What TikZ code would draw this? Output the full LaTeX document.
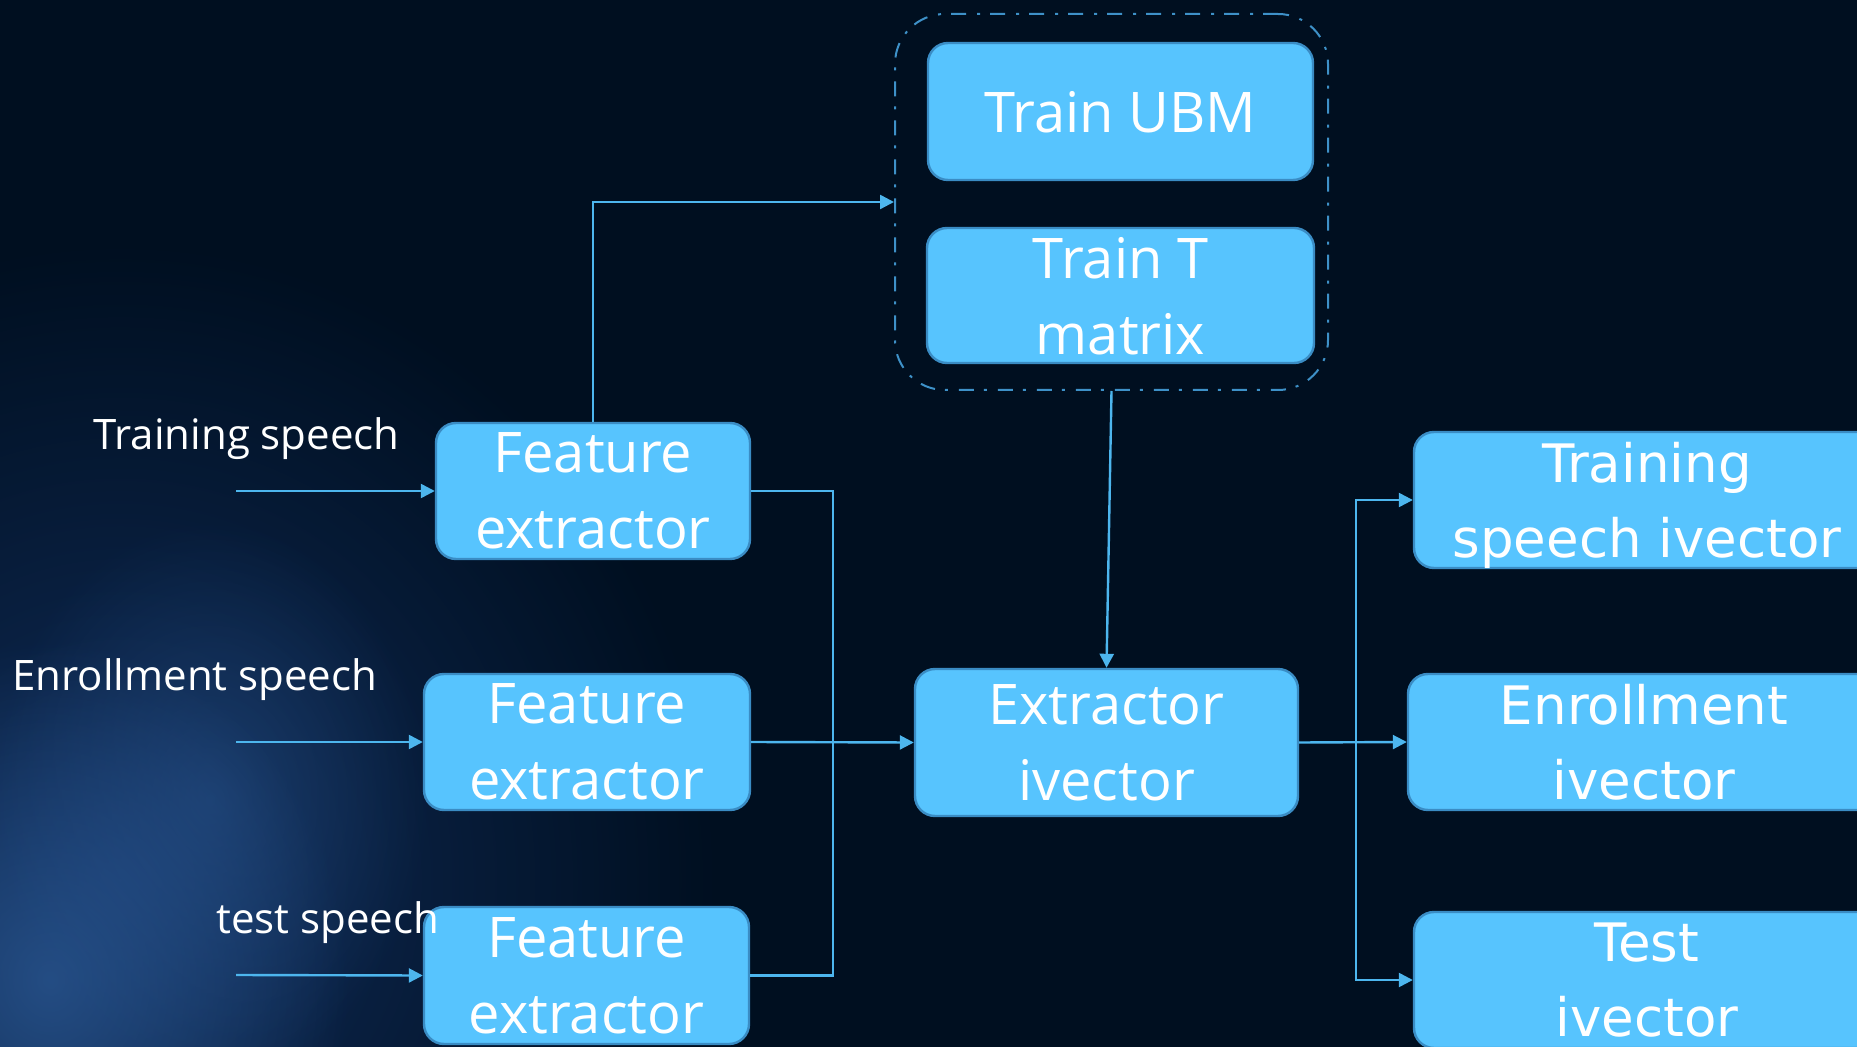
\documentclass[tikz,border=0pt]{standalone}
\usepackage{fontspec}
\setmainfont{Open Sans}
\newfontfamily\vecfont{DejaVu Sans}
\usetikzlibrary{arrows.meta,fadings}

\definecolor{bg}{RGB}{0,15,32}
\definecolor{glow}{RGB}{44,90,150}
\definecolor{glowsoft}{RGB}{16,44,88}
\definecolor{boxfill}{RGB}{87,196,254}
\definecolor{boxedge}{RGB}{58,140,196}
\definecolor{wirecol}{RGB}{77,182,238}
\definecolor{grpedge}{RGB}{62,145,200}

\tikzfading[name=softglow, inner color=transparent!0, outer color=transparent!100]

\tikzset{
  box/.style={draw=boxedge, fill=boxfill, line width=1.2pt, rounded corners=10pt,
    text=white, align=center, inner sep=0pt, text depth=0pt,
    font=\fontsize{28}{38}\selectfont},
  vbox/.style={box, font=\vecfont\fontsize{26.5}{37.5}\selectfont},
  wire/.style={draw=wirecol, line width=1.2pt},
  tip/.style={wire, -{Triangle[length=7pt,width=7pt]}},
  inlabel/.style={text=white, anchor=base west, inner sep=0pt,
    font=\fontsize{21}{25}\selectfont},
  group/.style={draw=grpedge, line width=1pt, rounded corners=25pt,
    dash pattern=on 7.5pt off 5pt on 1.5pt off 5.5pt,
    minimum width=216.5pt, minimum height=188pt, inner sep=0pt},
  haze/.style={path fading=softglow}
}

\begin{document}
\begin{tikzpicture}[x=0.5pt, y=-0.5pt]
  \clip (0,0) rectangle (1857,1047);
  % dark backdrop with a soft blue haze in the lower left
  \fill[bg] (0,0) rectangle (1857,1047);
  \fill[glowsoft, haze] (120,880) ellipse (600 and 640);
  \fill[glow, haze, opacity=0.75] (50,980) ellipse (300 and 340);
  \fill[glow, haze, opacity=0.45] (210,800) ellipse (220 and 280);

  % training stage
  \node[group] (grp) at (1111.5,202) {};
  \node[box, minimum width=192.5pt, minimum height=68.5pt] (ubm) at (1120.5,111.5) {Train UBM};
  \node[box, minimum width=193.5pt, minimum height=67.5pt] (tmat) at (1120.5,295.5) {Train T\\matrix};

  % feature extraction
  \node[box, minimum width=157pt, minimum height=68pt] (fe1) at (593,491) {Feature\\extractor};
  \node[box, minimum width=163pt, minimum height=68pt] (fe2) at (587,742) {Feature\\extractor};
  \node[box, minimum width=162.5pt, minimum height=68.5pt] (fe3) at (586.5,975.5) {Feature\\extractor};

  % ivector extraction
  \node[box, minimum width=191.5pt, minimum height=73.5pt] (ext) at (1106.5,742.5) {Extractor\\ivector};

  % outputs
  \node[vbox, minimum width=233pt, minimum height=68pt] (tsi) at (1647,500) {Training\\speech ivector};
  \node[vbox, minimum width=236pt, minimum height=68pt] (enr) at (1644,742) {Enrollment\\ivector};
  \node[vbox, minimum width=233pt, minimum height=68pt] (tiv) at (1647,980) {Test\\ivector};

  % input labels
  \node[inlabel] (lab1) at (93,449.5) {Training speech};
  \node[inlabel] (lab2) at (12,690) {Enrollment speech};
  \node[inlabel] (lab3) at (216,933) {test speech};

  % inputs
  \coordinate (in1) at (236,491);
  \coordinate (in2) at (236,742);
  \coordinate (in3) at (236,975);
  \draw[tip] (in1) -- (fe1.west);
  \draw[tip] (in2) -- (fe2.west);
  \draw[tip] (in3) -- (fe3.west);

  % features to the extractor and to training
  \coordinate (busL) at (833,742);
  \draw[wire] (fe1.east) -| (busL) |- (fe3.east);
  \draw[tip] (fe2.east) -- (ext.west);
  \draw[tip] (fe1.north) |- (grp.west);
  \draw[tip] (grp.south) -- (ext.north);

  % extractor to the three ivector sets
  \coordinate (busR) at (1356,742);
  \draw[tip] (ext.east) -- (enr.west);
  \draw[tip] (busR) |- (tsi.west);
  \draw[tip] (busR) |- (tiv.west);
\end{tikzpicture}
\end{document}
